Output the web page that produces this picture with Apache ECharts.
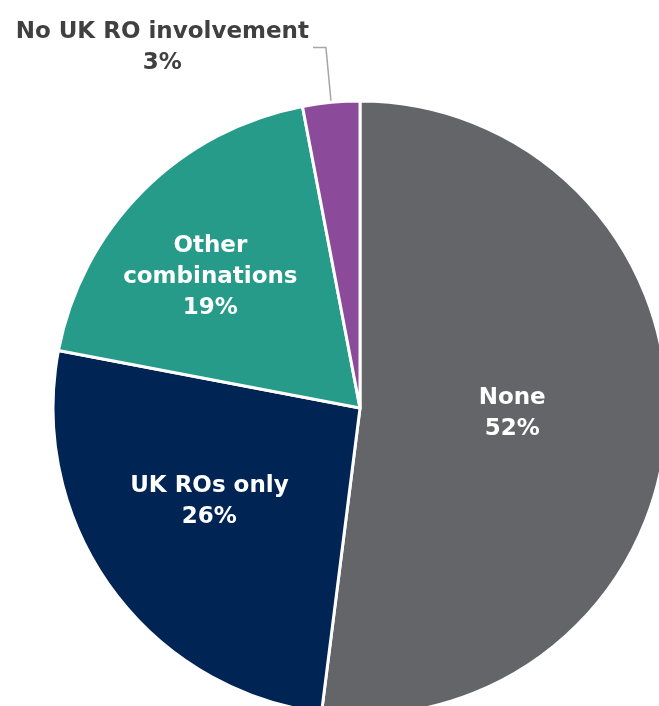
<!DOCTYPE html>
<html>
<head>
<meta charset="utf-8">
<script src="https://cdn.jsdelivr.net/npm/echarts@6/dist/echarts.min.js"></script>
<style>
  html, body { margin: 0; padding: 0; background: #ffffff; }
  #chart { width: 659px; height: 706px; }
</style>
</head>
<body>
<div id="chart"></div>
<script>
// Share of projects by research organisation involvement
const categories = ['None', 'UK ROs only', 'Other combinations', 'No UK RO involvement'];
const labelNames = ['None', 'UK ROs only', 'Other\ncombinations', 'No UK RO involvement'];
const shares = [52, 26, 19, 3];
const colors = ['#636569', '#002554', '#279b89', '#8b4a9a'];

// Nudges for the in-slice labels (dx, dy); the last slice is labelled outside
const labelNudge = [[-4, -4], [-24, 2], [-39, -20], [0, 0]];

const FONT = '"DejaVu Sans", Lato, sans-serif';
const FONT_SIZE = 23;

const chart = echarts.init(document.getElementById('chart'), null, { renderer: 'canvas' });

const seriesData = categories.map((name, i) => {
  const item = {
    name: name,
    value: shares[i],
    itemStyle: { color: colors[i] }
  };
  if (i === categories.length - 1) {
    item.label = {
      position: 'outside',
      formatter: p => '{t|' + labelNames[p.dataIndex] + '}\n{t|' + p.value + '%}',
      color: '#404040',
      distanceToLabelLine: 4,
      rich: {
        t: { align: 'center', fontFamily: FONT, fontWeight: 'bold', fontSize: FONT_SIZE, lineHeight: 31, color: '#404040' }
      }
    };
    item.labelLine = {
      show: true,
      length: 55,
      length2: 13,
      lineStyle: { color: '#a6a6a6', width: 1.5 }
    };
  }
  return item;
});

chart.setOption({
  animation: false,
  backgroundColor: '#ffffff',
  series: [{
    type: 'pie',
    center: [360, 408],
    radius: [0, 307],
    startAngle: 90,
    clockwise: true,
    avoidLabelOverlap: false,
    itemStyle: { borderColor: '#ffffff', borderWidth: 3 },
    label: {
      show: true,
      position: 'inside',
      formatter: p => labelNames[p.dataIndex] + '\n' + p.value + '%',
      color: '#ffffff',
      fontFamily: FONT,
      fontWeight: 'bold',
      fontSize: FONT_SIZE,
      lineHeight: 31,
      align: 'center'
    },
    labelLine: { show: false },
    labelLayout: params => {
      const n = labelNudge[params.dataIndex];
      return { dx: n[0], dy: n[1] };
    },
    emphasis: { disabled: true },
    data: seriesData
  }]
});
</script>
</body>
</html>
